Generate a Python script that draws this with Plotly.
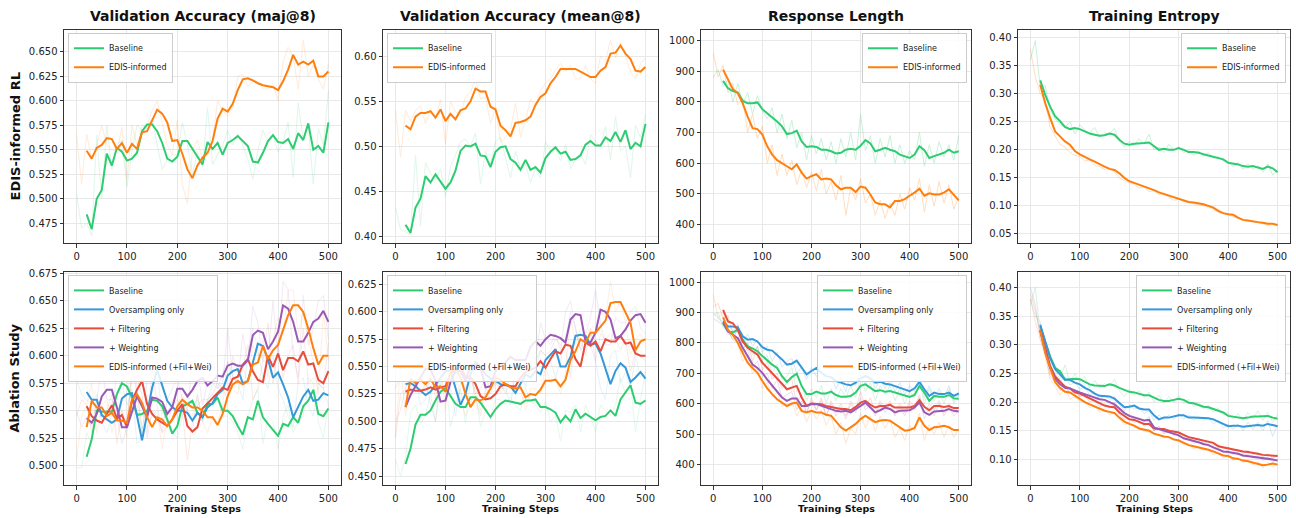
import plotly.graph_objects as go

W, H = 1296, 518
STEPS_RAW = list(range(0, 501, 10))
STEPS_SM = list(range(20, 501, 10))

GREEN = '#2ecc71'; BLUE = '#3498db'; RED = '#e74c3c'; PURPLE = '#9b59b6'; ORANGE = '#ff7f0e'

COL_TITLES = ["Validation Accuracy (maj@8)", "Validation Accuracy (mean@8)", "Response Length", "Training Entropy"]
ROW_TITLES = ["EDIS-informed RL", "Ablation Study"]
NAMES_TOP = ["Baseline", "EDIS-informed"]
NAMES_AB = ["Baseline", "Oversampling only", "+ Filtering", "+ Weighting", "EDIS-informed (+Fil+Wei)"]
X_TICKS = [0, 100, 200, 300, 400, 500]

# ---------------- Row 1: EDIS-informed RL ----------------
MAJ_BASE = [0.484, 0.469, 0.500, 0.509, 0.546, 0.534, 0.552, 0.548, 0.539,
            0.541, 0.547, 0.569, 0.576, 0.576, 0.569, 0.557, 0.541, 0.538, 0.543,
            0.559, 0.559, 0.551, 0.543, 0.535, 0.558, 0.551, 0.557, 0.545, 0.557,
            0.560, 0.564, 0.559, 0.554, 0.538, 0.537, 0.547, 0.559, 0.565, 0.558,
            0.557, 0.561, 0.551, 0.567, 0.560, 0.577, 0.550, 0.554, 0.547, 0.578]
MAJ_EDIS = [0.549, 0.541, 0.552, 0.555, 0.562, 0.561, 0.551, 0.557, 0.547,
            0.556, 0.551, 0.568, 0.569, 0.580, 0.591, 0.587, 0.578, 0.559, 0.560,
            0.546, 0.530, 0.521, 0.534, 0.542, 0.547, 0.559, 0.582, 0.592, 0.589,
            0.597, 0.611, 0.622, 0.623, 0.621, 0.618, 0.616, 0.615, 0.614, 0.611,
            0.620, 0.632, 0.647, 0.637, 0.640, 0.637, 0.641, 0.625, 0.625, 0.630]
MAJ_BASE_RAW = [0.505, 0.470, 0.475, 0.462, 0.565, 0.500, 0.575, 0.530, 0.555, 0.560,
                0.512, 0.548, 0.575, 0.570, 0.573, 0.582, 0.555, 0.530, 0.540, 0.545,
                0.545, 0.578, 0.555, 0.525, 0.548, 0.532, 0.593, 0.535, 0.545, 0.555,
                0.570, 0.555, 0.567, 0.555, 0.540, 0.520, 0.550, 0.570, 0.558, 0.565,
                0.548, 0.558, 0.578, 0.522, 0.598, 0.560, 0.575, 0.515, 0.572, 0.555,
                0.610]
MAJ_EDIS_RAW = [0.565, 0.515, 0.566, 0.540, 0.555, 0.575, 0.555, 0.550, 0.548, 0.573,
                0.520, 0.575, 0.555, 0.575, 0.575, 0.590, 0.600, 0.578, 0.555, 0.545,
                0.580, 0.515, 0.495, 0.550, 0.560, 0.540, 0.545, 0.560, 0.600, 0.590,
                0.585, 0.592, 0.625, 0.627, 0.615, 0.620, 0.620, 0.612, 0.612, 0.617,
                0.600, 0.640, 0.655, 0.645, 0.612, 0.662, 0.625, 0.637, 0.622, 0.612,
                0.638]

MEAN_BASE = [0.413, 0.404, 0.432, 0.442, 0.467, 0.460, 0.469, 0.461, 0.453,
             0.460, 0.473, 0.495, 0.501, 0.500, 0.503, 0.490, 0.489, 0.477, 0.494,
             0.499, 0.500, 0.486, 0.482, 0.474, 0.485, 0.474, 0.477, 0.471, 0.487,
             0.494, 0.499, 0.492, 0.494, 0.485, 0.486, 0.490, 0.502, 0.506, 0.501,
             0.501, 0.510, 0.506, 0.516, 0.505, 0.518, 0.497, 0.504, 0.500, 0.525]
MEAN_EDIS = [0.523, 0.519, 0.533, 0.537, 0.537, 0.539, 0.532, 0.541, 0.528,
             0.536, 0.530, 0.540, 0.542, 0.550, 0.564, 0.561, 0.561, 0.544, 0.541,
             0.523, 0.518, 0.511, 0.526, 0.527, 0.529, 0.533, 0.546, 0.555, 0.559,
             0.570, 0.577, 0.586, 0.586, 0.586, 0.586, 0.583, 0.580, 0.577, 0.577,
             0.584, 0.588, 0.603, 0.604, 0.612, 0.603, 0.597, 0.584, 0.583, 0.588]
MEAN_BASE_RAW = [0.432, 0.408, 0.405, 0.402, 0.490, 0.412, 0.482, 0.470, 0.462, 0.475,
                 0.445, 0.478, 0.490, 0.505, 0.508, 0.500, 0.515, 0.458, 0.495, 0.480,
                 0.505, 0.510, 0.487, 0.465, 0.495, 0.475, 0.480, 0.460, 0.475, 0.465,
                 0.505, 0.495, 0.497, 0.484, 0.502, 0.475, 0.485, 0.492, 0.480, 0.513,
                 0.505, 0.500, 0.522, 0.485, 0.533, 0.495, 0.500, 0.465, 0.523, 0.510,
                 0.535]
MEAN_EDIS_RAW = [0.540, 0.488, 0.540, 0.528, 0.540, 0.545, 0.525, 0.540, 0.530, 0.552,
                 0.503, 0.550, 0.538, 0.535, 0.555, 0.560, 0.575, 0.553, 0.555, 0.525,
                 0.543, 0.505, 0.510, 0.518, 0.548, 0.510, 0.530, 0.552, 0.547, 0.562,
                 0.570, 0.575, 0.585, 0.592, 0.583, 0.590, 0.575, 0.575, 0.590, 0.575,
                 0.570, 0.600, 0.595, 0.618, 0.598, 0.615, 0.600, 0.582, 0.575, 0.592,
                 0.598]

LEN_BASE = [868, 844, 835, 830, 803, 795, 795, 798, 776,
            763, 752, 736, 720, 695, 698, 706, 671, 653, 655,
            653, 644, 644, 639, 632, 634, 644, 647, 644, 657,
            675, 664, 639, 644, 650, 644, 639, 628, 623, 617,
            628, 655, 642, 617, 623, 628, 634, 644, 634, 639]
LEN_EDIS = [905, 871, 841, 828, 795, 752, 714, 711, 693,
            655, 628, 610, 601, 590, 580, 596, 569, 550, 558,
            564, 547, 550, 547, 528, 515, 520, 520, 506, 524,
            520, 498, 472, 466, 466, 456, 477, 477, 483, 494,
            504, 517, 494, 502, 498, 498, 504, 515, 498, 479]
LEN_BASE_RAW = [880, 905, 850, 870, 800, 860, 790, 830, 760, 820,
                770, 745, 780, 700, 760, 680, 740, 650, 700, 610,
                690, 630, 680, 610, 670, 600, 680, 620, 700, 610,
                760, 640, 690, 600, 680, 620, 690, 600, 660, 600,
                640, 610, 700, 590, 660, 600, 670, 620, 660, 610,
                690]
LEN_EDIS_RAW = [960, 880, 920, 830, 860, 790, 810, 700, 760, 680,
                720, 600, 660, 560, 630, 560, 610, 530, 580, 520,
                570, 510, 580, 500, 540, 480, 560, 430, 520, 480,
                550, 470, 500, 430, 480, 420, 470, 430, 500, 450,
                520, 480, 550, 440, 530, 460, 540, 470, 530, 450,
                490]

ENT_BASE = [0.324, 0.298, 0.277, 0.260, 0.251, 0.241, 0.237, 0.239, 0.237,
            0.233, 0.229, 0.227, 0.225, 0.226, 0.229, 0.227, 0.218, 0.211, 0.209,
            0.211, 0.211, 0.212, 0.213, 0.206, 0.200, 0.202, 0.200, 0.200, 0.203,
            0.200, 0.196, 0.196, 0.195, 0.192, 0.190, 0.187, 0.186, 0.183, 0.177,
            0.176, 0.174, 0.171, 0.170, 0.171, 0.168, 0.166, 0.170, 0.167, 0.160]
ENT_EDIS = [0.316, 0.283, 0.257, 0.233, 0.224, 0.215, 0.209, 0.198, 0.192,
            0.187, 0.183, 0.179, 0.174, 0.170, 0.166, 0.164, 0.158, 0.150, 0.144,
            0.141, 0.137, 0.134, 0.131, 0.128, 0.124, 0.121, 0.119, 0.115, 0.112,
            0.109, 0.107, 0.106, 0.105, 0.103, 0.100, 0.097, 0.091, 0.087, 0.085,
            0.084, 0.079, 0.075, 0.074, 0.072, 0.071, 0.070, 0.068, 0.068, 0.066]
ENT_BASE_RAW = [0.360, 0.395, 0.310, 0.315, 0.270, 0.255, 0.245, 0.240, 0.250, 0.228,
                0.245, 0.235, 0.230, 0.240, 0.222, 0.230, 0.228, 0.238, 0.215, 0.205,
                0.215, 0.208, 0.220, 0.210, 0.228, 0.200, 0.205, 0.195, 0.210, 0.200,
                0.205, 0.195, 0.200, 0.190, 0.198, 0.188, 0.195, 0.185, 0.188, 0.180,
                0.180, 0.170, 0.178, 0.165, 0.175, 0.165, 0.172, 0.160, 0.175, 0.155,
                0.165]
ENT_EDIS_RAW = [0.380, 0.330, 0.300, 0.290, 0.240, 0.225, 0.210, 0.205, 0.195, 0.190,
                0.188, 0.180, 0.182, 0.172, 0.170, 0.165, 0.168, 0.160, 0.150, 0.145,
                0.142, 0.138, 0.132, 0.135, 0.125, 0.128, 0.120, 0.122, 0.115, 0.110,
                0.112, 0.108, 0.106, 0.104, 0.102, 0.100, 0.098, 0.094, 0.088, 0.086,
                0.085, 0.080, 0.078, 0.074, 0.073, 0.072, 0.070, 0.068, 0.065, 0.068,
                0.064]

# ---------------- Row 2: Ablation Study ----------------
AB_MAJ_BASE = [0.508, 0.524, 0.550, 0.549, 0.549, 0.549, 0.565, 0.575, 0.572,
               0.562, 0.546, 0.547, 0.550, 0.560, 0.559, 0.554, 0.542, 0.529, 0.536,
               0.554, 0.556, 0.559, 0.548, 0.544, 0.556, 0.556, 0.562, 0.550, 0.550,
               0.545, 0.536, 0.528, 0.544, 0.542, 0.559, 0.544, 0.538, 0.533, 0.527,
               0.538, 0.536, 0.544, 0.539, 0.554, 0.559, 0.569, 0.547, 0.545, 0.552]
AB_MAJ_OVER = [0.567, 0.560, 0.560, 0.546, 0.542, 0.539, 0.542, 0.561, 0.565,
               0.566, 0.545, 0.523, 0.547, 0.571, 0.587, 0.574, 0.559, 0.553, 0.550,
               0.550, 0.548, 0.541, 0.548, 0.544, 0.553, 0.557, 0.565, 0.569, 0.582,
               0.586, 0.588, 0.575, 0.577, 0.594, 0.611, 0.609, 0.597, 0.580, 0.585,
               0.574, 0.562, 0.544, 0.553, 0.563, 0.569, 0.559, 0.560, 0.566, 0.564]
AB_MAJ_FILT = [0.554, 0.545, 0.541, 0.539, 0.547, 0.555, 0.543, 0.546, 0.535,
               0.559, 0.569, 0.577, 0.556, 0.547, 0.542, 0.539, 0.536, 0.542, 0.550,
               0.556, 0.536, 0.531, 0.535, 0.552, 0.557, 0.562, 0.566, 0.571, 0.569,
               0.579, 0.581, 0.592, 0.597, 0.586, 0.578, 0.576, 0.600, 0.590, 0.602,
               0.587, 0.598, 0.598, 0.595, 0.604, 0.592, 0.593, 0.578, 0.575, 0.586]
AB_MAJ_WEIGHT = [0.543, 0.539, 0.547, 0.563, 0.569, 0.569, 0.553, 0.535, 0.535,
                 0.550, 0.563, 0.554, 0.544, 0.562, 0.561, 0.558, 0.547, 0.553, 0.570,
                 0.570, 0.563, 0.569, 0.577, 0.580, 0.573, 0.577, 0.582, 0.581, 0.591,
                 0.593, 0.591, 0.591, 0.596, 0.619, 0.623, 0.621, 0.606, 0.613, 0.622,
                 0.646, 0.643, 0.631, 0.613, 0.613, 0.621, 0.631, 0.634, 0.641, 0.631]
AB_MAJ_EDIS = [0.535, 0.559, 0.553, 0.553, 0.545, 0.548, 0.541, 0.541, 0.539,
               0.560, 0.565, 0.557, 0.544, 0.535, 0.544, 0.542, 0.536, 0.542, 0.554,
               0.560, 0.556, 0.553, 0.553, 0.550, 0.544, 0.544, 0.537, 0.547, 0.563,
               0.574, 0.577, 0.574, 0.577, 0.592, 0.594, 0.609, 0.597, 0.605, 0.610,
               0.624, 0.637, 0.646, 0.646, 0.640, 0.625, 0.607, 0.592, 0.600, 0.600]
AB_MAJ_BASE_RAW = [0.498, 0.498, 0.530, 0.520, 0.560, 0.545, 0.550, 0.550, 0.560, 0.585,
                   0.580, 0.555, 0.555, 0.530, 0.565, 0.560, 0.562, 0.550, 0.540, 0.530,
                   0.525, 0.545, 0.565, 0.555, 0.560, 0.540, 0.560, 0.565, 0.560, 0.545,
                   0.545, 0.540, 0.530, 0.515, 0.545, 0.560, 0.570, 0.520, 0.545, 0.540,
                   0.515, 0.545, 0.555, 0.530, 0.540, 0.545, 0.580, 0.575, 0.540, 0.525,
                   0.555]
AB_MAJ_OVER_RAW = [0.578, 0.565, 0.560, 0.555, 0.565, 0.540, 0.530, 0.545, 0.585, 0.575,
                   0.555, 0.570, 0.520, 0.525, 0.580, 0.600, 0.590, 0.540, 0.550, 0.555,
                   0.545, 0.560, 0.535, 0.530, 0.565, 0.540, 0.560, 0.575, 0.570, 0.585,
                   0.595, 0.582, 0.575, 0.560, 0.600, 0.625, 0.605, 0.580, 0.570, 0.600,
                   0.570, 0.560, 0.545, 0.535, 0.575, 0.580, 0.555, 0.545, 0.575, 0.570,
                   0.555]
AB_MAJ_FILT_RAW = [0.545, 0.560, 0.555, 0.530, 0.545, 0.545, 0.550, 0.565, 0.520, 0.550,
                   0.540, 0.580, 0.580, 0.565, 0.525, 0.550, 0.545, 0.530, 0.535, 0.555,
                   0.560, 0.550, 0.505, 0.540, 0.555, 0.560, 0.560, 0.565, 0.575, 0.570,
                   0.560, 0.600, 0.585, 0.590, 0.610, 0.560, 0.570, 0.595, 0.630, 0.575,
                   0.610, 0.580, 0.600, 0.610, 0.575, 0.625, 0.575, 0.580, 0.575, 0.570,
                   0.612]
AB_MAJ_WEIGHT_RAW = [0.550, 0.535, 0.545, 0.535, 0.560, 0.590, 0.560, 0.560, 0.545, 0.520,
                     0.535, 0.590, 0.565, 0.535, 0.530, 0.590, 0.555, 0.530, 0.560, 0.570,
                     0.580, 0.560, 0.550, 0.595, 0.590, 0.555, 0.575, 0.600, 0.570, 0.575,
                     0.625, 0.580, 0.575, 0.620, 0.595, 0.645, 0.630, 0.595, 0.595, 0.650,
                     0.600, 0.668, 0.660, 0.600, 0.580, 0.655, 0.610, 0.625, 0.650, 0.655,
                     0.615]
AB_MAJ_EDIS_RAW = [0.505, 0.545, 0.555, 0.575, 0.530, 0.555, 0.560, 0.530, 0.545, 0.550,
                   0.525, 0.600, 0.570, 0.530, 0.535, 0.545, 0.550, 0.515, 0.545, 0.560,
                   0.555, 0.565, 0.550, 0.545, 0.565, 0.540, 0.530, 0.545, 0.540, 0.555,
                   0.595, 0.570, 0.565, 0.590, 0.575, 0.610, 0.600, 0.615, 0.580, 0.615,
                   0.635, 0.620, 0.660, 0.660, 0.620, 0.640, 0.615, 0.595, 0.565, 0.640,
                   0.595]

AB_MEAN_BASE = [0.461, 0.475, 0.497, 0.506, 0.506, 0.510, 0.519, 0.527, 0.530,
                0.523, 0.516, 0.513, 0.513, 0.522, 0.522, 0.517, 0.510, 0.504, 0.511,
                0.516, 0.519, 0.518, 0.517, 0.516, 0.519, 0.519, 0.520, 0.513, 0.513,
                0.511, 0.508, 0.499, 0.505, 0.500, 0.511, 0.503, 0.507, 0.504, 0.501,
                0.504, 0.505, 0.510, 0.505, 0.520, 0.526, 0.533, 0.517, 0.516, 0.519]
AB_MEAN_OVER = [0.534, 0.535, 0.532, 0.528, 0.524, 0.527, 0.533, 0.540, 0.546,
                0.546, 0.530, 0.515, 0.525, 0.543, 0.554, 0.550, 0.543, 0.539, 0.537,
                0.534, 0.533, 0.532, 0.526, 0.535, 0.543, 0.540, 0.546, 0.543, 0.556,
                0.561, 0.566, 0.550, 0.550, 0.559, 0.578, 0.579, 0.578, 0.570, 0.571,
                0.562, 0.547, 0.534, 0.546, 0.553, 0.549, 0.536, 0.540, 0.545, 0.539]
AB_MEAN_FILT = [0.527, 0.529, 0.528, 0.528, 0.529, 0.531, 0.529, 0.531, 0.532,
                0.544, 0.546, 0.551, 0.540, 0.540, 0.534, 0.523, 0.520, 0.521, 0.525,
                0.532, 0.534, 0.532, 0.532, 0.540, 0.545, 0.547, 0.549, 0.555, 0.549,
                0.557, 0.564, 0.562, 0.570, 0.569, 0.557, 0.550, 0.572, 0.569, 0.573,
                0.564, 0.575, 0.573, 0.573, 0.578, 0.571, 0.572, 0.562, 0.560, 0.560]
AB_MEAN_WEIGHT = [0.513, 0.524, 0.532, 0.540, 0.548, 0.548, 0.537, 0.518, 0.519,
                  0.536, 0.546, 0.546, 0.537, 0.551, 0.552, 0.549, 0.531, 0.532, 0.546,
                  0.551, 0.554, 0.559, 0.556, 0.556, 0.556, 0.568, 0.573, 0.569, 0.575,
                  0.579, 0.578, 0.576, 0.572, 0.593, 0.598, 0.597, 0.573, 0.572, 0.581,
                  0.602, 0.600, 0.593, 0.576, 0.578, 0.584, 0.592, 0.597, 0.598, 0.590]
AB_MEAN_EDIS = [0.513, 0.539, 0.535, 0.538, 0.534, 0.539, 0.531, 0.532, 0.527,
                0.546, 0.548, 0.540, 0.525, 0.513, 0.520, 0.519, 0.522, 0.530, 0.540,
                0.538, 0.534, 0.531, 0.530, 0.531, 0.522, 0.525, 0.524, 0.529, 0.537,
                0.537, 0.538, 0.532, 0.538, 0.556, 0.564, 0.575, 0.572, 0.581, 0.581,
                0.587, 0.592, 0.608, 0.609, 0.609, 0.600, 0.590, 0.565, 0.573, 0.575]
AB_MEAN_BASE_RAW = [0.465, 0.450, 0.467, 0.508, 0.515, 0.497, 0.506, 0.525, 0.500, 0.535,
                    0.540, 0.495, 0.515, 0.530, 0.498, 0.540, 0.528, 0.495, 0.510, 0.505,
                    0.520, 0.520, 0.515, 0.522, 0.515, 0.510, 0.530, 0.518, 0.515, 0.508,
                    0.518, 0.500, 0.505, 0.482, 0.510, 0.508, 0.515, 0.490, 0.515, 0.505,
                    0.490, 0.515, 0.510, 0.505, 0.515, 0.540, 0.525, 0.535, 0.490, 0.520,
                    0.545]
AB_MEAN_OVER_RAW = [0.530, 0.540, 0.533, 0.532, 0.540, 0.515, 0.520, 0.540, 0.545, 0.555,
                    0.540, 0.530, 0.505, 0.535, 0.560, 0.555, 0.545, 0.535, 0.540, 0.530,
                    0.535, 0.530, 0.530, 0.515, 0.545, 0.550, 0.530, 0.555, 0.545, 0.565,
                    0.560, 0.555, 0.540, 0.555, 0.575, 0.600, 0.585, 0.565, 0.570, 0.570,
                    0.555, 0.530, 0.520, 0.560, 0.565, 0.535, 0.545, 0.530, 0.560, 0.540,
                    0.545]
AB_MEAN_FILT_RAW = [0.485, 0.525, 0.530, 0.525, 0.535, 0.525, 0.535, 0.525, 0.535, 0.530,
                    0.545, 0.560, 0.550, 0.540, 0.530, 0.545, 0.520, 0.505, 0.530, 0.525,
                    0.535, 0.535, 0.525, 0.545, 0.525, 0.560, 0.550, 0.555, 0.555, 0.565,
                    0.560, 0.565, 0.575, 0.570, 0.565, 0.540, 0.580, 0.575, 0.560, 0.585,
                    0.555, 0.580, 0.575, 0.580, 0.575, 0.565, 0.575, 0.545, 0.565, 0.560,
                    0.555]
AB_MEAN_WEIGHT_RAW = [0.500, 0.510, 0.530, 0.540, 0.550, 0.555, 0.540, 0.515, 0.500, 0.540,
                      0.560, 0.545, 0.535, 0.560, 0.555, 0.540, 0.525, 0.530, 0.540, 0.565,
                      0.550, 0.545, 0.565, 0.560, 0.545, 0.565, 0.580, 0.575, 0.555, 0.590,
                      0.575, 0.570, 0.580, 0.565, 0.600, 0.610, 0.585, 0.565, 0.580, 0.595,
                      0.620, 0.590, 0.570, 0.570, 0.595, 0.590, 0.590, 0.600, 0.605, 0.585,
                      0.580]
AB_MEAN_EDIS_RAW = [0.485, 0.552, 0.505, 0.545, 0.530, 0.540, 0.530, 0.545, 0.520, 0.550,
                    0.510, 0.565, 0.545, 0.520, 0.505, 0.515, 0.535, 0.510, 0.525, 0.545,
                    0.545, 0.525, 0.535, 0.530, 0.530, 0.530, 0.510, 0.530, 0.530, 0.525,
                    0.550, 0.535, 0.540, 0.525, 0.545, 0.595, 0.570, 0.585, 0.580, 0.585,
                    0.580, 0.600, 0.595, 0.628, 0.600, 0.610, 0.590, 0.560, 0.575, 0.580,
                    0.570]

AB_LEN_BASE = [865, 838, 835, 843, 811, 789, 782, 773, 757,
               742, 729, 718, 691, 672, 688, 699, 659, 632, 632,
               640, 634, 634, 640, 629, 623, 623, 626, 637, 659,
               664, 653, 642, 645, 640, 642, 637, 632, 626, 623,
               629, 659, 637, 610, 626, 623, 623, 629, 618, 617]
AB_LEN_OVER = [871, 854, 854, 851, 822, 811, 813, 805, 786,
               778, 775, 762, 746, 729, 732, 742, 718, 697, 708,
               718, 702, 691, 688, 675, 670, 664, 661, 670, 684,
               691, 684, 670, 673, 666, 664, 659, 653, 648, 642,
               651, 672, 648, 626, 637, 632, 632, 637, 626, 634]
AB_LEN_FILT = [909, 871, 865, 843, 805, 784, 773, 762, 735,
               718, 702, 686, 666, 648, 653, 659, 621, 593, 601,
               599, 599, 593, 590, 586, 583, 583, 579, 590, 604,
               610, 597, 588, 593, 593, 597, 588, 588, 586, 588,
               593, 612, 590, 579, 593, 593, 590, 593, 586, 586]
AB_LEN_WEIGHT = [868, 838, 827, 816, 784, 757, 729, 718, 702,
                 680, 659, 640, 621, 610, 618, 618, 593, 593, 599,
                 599, 593, 588, 583, 577, 575, 577, 572, 583, 593,
                 604, 588, 572, 579, 588, 583, 572, 577, 577, 579,
                 588, 604, 572, 564, 575, 575, 577, 583, 577, 575]
AB_LEN_EDIS = [884, 843, 827, 800, 767, 735, 718, 702, 675,
               651, 632, 615, 604, 593, 601, 604, 577, 572, 577,
               572, 572, 564, 561, 540, 523, 512, 523, 534, 550,
               561, 550, 540, 545, 547, 545, 534, 523, 512, 514,
               521, 555, 528, 514, 523, 525, 528, 523, 514, 514]
AB_LEN_BASE_RAW = [890, 900, 850, 840, 810, 850, 780, 800, 760, 790,
                   740, 760, 700, 730, 680, 690, 720, 640, 660, 610,
                   650, 620, 660, 600, 650, 610, 650, 620, 660, 620,
                   690, 640, 670, 610, 660, 630, 660, 610, 650, 600,
                   640, 620, 680, 600, 650, 610, 640, 600, 650, 600,
                   630]
AB_LEN_OVER_RAW = [900, 880, 870, 860, 840, 860, 800, 830, 790, 810,
                   770, 790, 740, 770, 720, 740, 750, 700, 720, 680,
                   720, 690, 710, 670, 690, 650, 680, 640, 700, 660,
                   720, 660, 690, 650, 680, 650, 680, 640, 670, 630,
                   660, 640, 690, 620, 660, 620, 650, 620, 660, 610,
                   640]
AB_LEN_FILT_RAW = [920, 930, 880, 890, 830, 860, 780, 800, 740, 790,
                   710, 740, 680, 700, 650, 670, 680, 600, 630, 570,
                   620, 580, 620, 560, 610, 570, 600, 560, 610, 580,
                   640, 590, 620, 570, 610, 580, 610, 570, 600, 570,
                   610, 590, 630, 570, 600, 580, 610, 570, 600, 570,
                   590]
AB_LEN_WEIGHT_RAW = [880, 870, 860, 830, 820, 840, 770, 780, 720, 740,
                     690, 700, 650, 680, 620, 630, 640, 580, 610, 570,
                     610, 580, 610, 560, 600, 560, 590, 550, 600, 570,
                     620, 580, 600, 560, 600, 570, 600, 560, 590, 560,
                     600, 580, 620, 550, 590, 560, 600, 560, 590, 560,
                     580]
AB_LEN_EDIS_RAW = [960, 880, 900, 840, 810, 800, 740, 760, 700, 720,
                   650, 670, 620, 640, 590, 610, 610, 560, 590, 540,
                   580, 550, 580, 530, 560, 500, 540, 470, 520, 500,
                   570, 520, 560, 510, 560, 520, 550, 490, 520, 480,
                   530, 510, 570, 480, 530, 500, 540, 490, 530, 490,
                   520]

AB_ENT_BASE = [0.332, 0.306, 0.280, 0.260, 0.254, 0.239, 0.240, 0.241, 0.240,
               0.235, 0.231, 0.229, 0.229, 0.228, 0.231, 0.229, 0.225, 0.221, 0.218,
               0.217, 0.215, 0.212, 0.212, 0.208, 0.204, 0.202, 0.202, 0.204, 0.206,
               0.204, 0.199, 0.198, 0.195, 0.192, 0.191, 0.188, 0.185, 0.182, 0.176,
               0.175, 0.173, 0.172, 0.173, 0.175, 0.175, 0.175, 0.176, 0.173, 0.171]
AB_ENT_OVER = [0.335, 0.306, 0.277, 0.258, 0.248, 0.239, 0.239, 0.234, 0.231,
               0.225, 0.221, 0.215, 0.211, 0.210, 0.210, 0.206, 0.199, 0.191, 0.192,
               0.194, 0.189, 0.187, 0.187, 0.177, 0.170, 0.173, 0.173, 0.175, 0.177,
               0.177, 0.173, 0.173, 0.173, 0.172, 0.172, 0.170, 0.166, 0.162, 0.158,
               0.159, 0.159, 0.157, 0.158, 0.160, 0.160, 0.159, 0.162, 0.160, 0.158]
AB_ENT_FILT = [0.326, 0.292, 0.263, 0.245, 0.235, 0.227, 0.224, 0.217, 0.215,
               0.211, 0.206, 0.202, 0.198, 0.194, 0.192, 0.191, 0.182, 0.176, 0.170,
               0.169, 0.166, 0.162, 0.162, 0.154, 0.153, 0.153, 0.150, 0.149, 0.147,
               0.143, 0.139, 0.137, 0.135, 0.133, 0.131, 0.129, 0.123, 0.121, 0.120,
               0.117, 0.116, 0.114, 0.113, 0.112, 0.110, 0.108, 0.107, 0.107, 0.106]
AB_ENT_WEIGHT = [0.325, 0.289, 0.260, 0.241, 0.231, 0.225, 0.224, 0.220, 0.217,
                 0.214, 0.211, 0.208, 0.205, 0.204, 0.200, 0.196, 0.189, 0.181, 0.176,
                 0.173, 0.170, 0.168, 0.169, 0.156, 0.153, 0.150, 0.147, 0.145, 0.142,
                 0.137, 0.135, 0.133, 0.130, 0.127, 0.125, 0.121, 0.117, 0.114, 0.113,
                 0.112, 0.110, 0.107, 0.106, 0.104, 0.104, 0.102, 0.101, 0.100, 0.098]
AB_ENT_EDIS = [0.325, 0.286, 0.260, 0.235, 0.225, 0.218, 0.217, 0.211, 0.205,
               0.200, 0.196, 0.192, 0.188, 0.185, 0.183, 0.181, 0.173, 0.166, 0.162,
               0.159, 0.154, 0.152, 0.150, 0.145, 0.142, 0.140, 0.139, 0.135, 0.133,
               0.129, 0.125, 0.123, 0.121, 0.120, 0.117, 0.114, 0.110, 0.107, 0.106,
               0.102, 0.101, 0.098, 0.097, 0.095, 0.093, 0.090, 0.091, 0.093, 0.091]
AB_ENT_BASE_RAW = [0.370, 0.400, 0.320, 0.300, 0.270, 0.255, 0.240, 0.265, 0.235, 0.250,
                   0.235, 0.245, 0.225, 0.238, 0.225, 0.232, 0.228, 0.240, 0.220, 0.210,
                   0.222, 0.212, 0.220, 0.208, 0.218, 0.200, 0.212, 0.198, 0.210, 0.200,
                   0.212, 0.198, 0.205, 0.192, 0.200, 0.188, 0.195, 0.182, 0.190, 0.178,
                   0.182, 0.170, 0.180, 0.168, 0.182, 0.170, 0.185, 0.168, 0.182, 0.165,
                   0.178]
AB_ENT_OVER_RAW = [0.380, 0.350, 0.340, 0.300, 0.265, 0.250, 0.235, 0.245, 0.230, 0.235,
                   0.222, 0.228, 0.212, 0.218, 0.205, 0.212, 0.205, 0.210, 0.195, 0.185,
                   0.195, 0.188, 0.190, 0.180, 0.185, 0.168, 0.178, 0.168, 0.178, 0.170,
                   0.180, 0.170, 0.178, 0.168, 0.175, 0.168, 0.172, 0.162, 0.168, 0.155,
                   0.162, 0.152, 0.162, 0.150, 0.165, 0.152, 0.165, 0.150, 0.168, 0.140,
                   0.160]
AB_ENT_FILT_RAW = [0.390, 0.360, 0.320, 0.290, 0.250, 0.240, 0.225, 0.230, 0.215, 0.220,
                   0.210, 0.212, 0.200, 0.205, 0.192, 0.198, 0.190, 0.195, 0.178, 0.170,
                   0.172, 0.165, 0.168, 0.158, 0.165, 0.150, 0.158, 0.145, 0.152, 0.145,
                   0.148, 0.140, 0.140, 0.132, 0.138, 0.128, 0.132, 0.125, 0.126, 0.118,
                   0.122, 0.115, 0.118, 0.110, 0.116, 0.108, 0.112, 0.105, 0.110, 0.102,
                   0.108]
AB_ENT_WEIGHT_RAW = [0.400, 0.370, 0.310, 0.285, 0.245, 0.235, 0.220, 0.228, 0.215, 0.220,
                     0.210, 0.215, 0.205, 0.208, 0.198, 0.205, 0.195, 0.200, 0.185, 0.178,
                     0.178, 0.170, 0.172, 0.165, 0.175, 0.150, 0.158, 0.145, 0.150, 0.142,
                     0.145, 0.135, 0.138, 0.128, 0.132, 0.124, 0.128, 0.118, 0.120, 0.112,
                     0.116, 0.108, 0.112, 0.104, 0.110, 0.102, 0.106, 0.098, 0.104, 0.096,
                     0.100]
AB_ENT_EDIS_RAW = [0.380, 0.340, 0.310, 0.280, 0.240, 0.228, 0.212, 0.225, 0.205, 0.210,
                   0.200, 0.202, 0.190, 0.195, 0.182, 0.188, 0.178, 0.182, 0.170, 0.160,
                   0.165, 0.155, 0.158, 0.148, 0.152, 0.142, 0.145, 0.138, 0.140, 0.132,
                   0.135, 0.125, 0.128, 0.118, 0.122, 0.115, 0.118, 0.108, 0.112, 0.102,
                   0.108, 0.098, 0.104, 0.094, 0.100, 0.090, 0.096, 0.085, 0.095, 0.088,
                   0.092]

# ---------------- Figure assembly ----------------
TOP_COLORS = [GREEN, ORANGE]
AB_COLORS = [GREEN, BLUE, RED, PURPLE, ORANGE]

PANELS = [
    dict(raw=[MAJ_BASE_RAW, MAJ_EDIS_RAW], sm=[MAJ_BASE, MAJ_EDIS], names=NAMES_TOP, colors=TOP_COLORS,
         yr=[0.4547, 0.6726], dtick=0.025, fmt='.3f', leg='left', alpha=0.15),
    dict(raw=[MEAN_BASE_RAW, MEAN_EDIS_RAW], sm=[MEAN_BASE, MEAN_EDIS], names=NAMES_TOP, colors=TOP_COLORS,
         yr=[0.3926, 0.6294], dtick=0.05, fmt='.2f', leg='left', alpha=0.15),
    dict(raw=[LEN_BASE_RAW, LEN_EDIS_RAW], sm=[LEN_BASE, LEN_EDIS], names=NAMES_TOP, colors=TOP_COLORS,
         yr=[339.5, 1034.6], dtick=100, fmt='d', leg='right', alpha=0.25),
    dict(raw=[ENT_BASE_RAW, ENT_EDIS_RAW], sm=[ENT_BASE, ENT_EDIS], names=NAMES_TOP, colors=TOP_COLORS,
         yr=[0.0335, 0.4142], dtick=0.05, fmt='.2f', leg='right', alpha=0.25),
    dict(raw=[AB_MAJ_BASE_RAW, AB_MAJ_OVER_RAW, AB_MAJ_FILT_RAW, AB_MAJ_WEIGHT_RAW, AB_MAJ_EDIS_RAW],
         sm=[AB_MAJ_BASE, AB_MAJ_OVER, AB_MAJ_FILT, AB_MAJ_WEIGHT, AB_MAJ_EDIS], names=NAMES_AB, colors=AB_COLORS,
         yr=[0.482, 0.6765], dtick=0.025, fmt='.3f', leg='left', alpha=0.12),
    dict(raw=[AB_MEAN_BASE_RAW, AB_MEAN_OVER_RAW, AB_MEAN_FILT_RAW, AB_MEAN_WEIGHT_RAW, AB_MEAN_EDIS_RAW],
         sm=[AB_MEAN_BASE, AB_MEAN_OVER, AB_MEAN_FILT, AB_MEAN_WEIGHT, AB_MEAN_EDIS], names=NAMES_AB, colors=AB_COLORS,
         yr=[0.4416, 0.6365], dtick=0.025, fmt='.3f', leg='left', alpha=0.12),
    dict(raw=[AB_LEN_BASE_RAW, AB_LEN_OVER_RAW, AB_LEN_FILT_RAW, AB_LEN_WEIGHT_RAW, AB_LEN_EDIS_RAW],
         sm=[AB_LEN_BASE, AB_LEN_OVER, AB_LEN_FILT, AB_LEN_WEIGHT, AB_LEN_EDIS], names=NAMES_AB, colors=AB_COLORS,
         yr=[332.5, 1033.6], dtick=100, fmt='d', leg='right', alpha=0.2),
    dict(raw=[AB_ENT_BASE_RAW, AB_ENT_OVER_RAW, AB_ENT_FILT_RAW, AB_ENT_WEIGHT_RAW, AB_ENT_EDIS_RAW],
         sm=[AB_ENT_BASE, AB_ENT_OVER, AB_ENT_FILT, AB_ENT_WEIGHT, AB_ENT_EDIS], names=NAMES_AB, colors=AB_COLORS,
         yr=[0.055, 0.4272], dtick=0.05, fmt='.2f', leg='right', alpha=0.2),
]

COL_PX = [(64, 341), (383, 658), (701, 971), (1018, 1290)]
ROW_PX = [(26, 241), (270, 485)]
FONT = "DejaVu Sans"
AXIS_COLOR = '#333333'
GRID_COLOR = '#e8e8e8'

fig = go.Figure()
layout = dict(
    width=W, height=H, margin=dict(l=0, r=0, t=0, b=0),
    paper_bgcolor='white', plot_bgcolor='white',
    font=dict(family=FONT, size=10, color='#222222'),
    annotations=[], showlegend=True,
)

for k, p in enumerate(PANELS):
    r, c = divmod(k, 4)
    idx = k + 1
    xa = 'x' if idx == 1 else f'x{idx}'
    ya = 'y' if idx == 1 else f'y{idx}'
    leg = 'legend' if idx == 1 else f'legend{idx}'
    x0, x1 = COL_PX[c]
    yt, yb = ROW_PX[r]
    for raw, color in zip(p['raw'], p['colors']):
        fig.add_trace(go.Scatter(x=STEPS_RAW, y=raw, mode='lines', xaxis=xa, yaxis=ya,
                                 line=dict(color=color, width=1), opacity=p['alpha'],
                                 showlegend=False, hoverinfo='skip', legend=leg))
    for sm, color, name in zip(p['sm'], p['colors'], p['names']):
        fig.add_trace(go.Scatter(x=STEPS_SM, y=sm, mode='lines', xaxis=xa, yaxis=ya, name=name,
                                 line=dict(color=color, width=2), legend=leg))
    axis_common = dict(showline=True, mirror=True, linecolor=AXIS_COLOR, linewidth=1,
                       ticks='outside', ticklen=3.5, tickwidth=0.8, tickcolor=AXIS_COLOR,
                       showgrid=True, gridcolor=GRID_COLOR, gridwidth=0.8, zeroline=False,
                       tickfont=dict(family=FONT, size=10, color='#222222'))
    layout['xaxis' if idx == 1 else f'xaxis{idx}'] = dict(
        axis_common, domain=[x0 / W, x1 / W], anchor=ya, range=[-25, 525],
        tickvals=X_TICKS)
    layout['yaxis' if idx == 1 else f'yaxis{idx}'] = dict(
        axis_common, domain=[1 - yb / H, 1 - yt / H], anchor=xa, range=p['yr'],
        dtick=p['dtick'], tick0=0, tickformat=p['fmt'])
    if p['leg'] == 'left':
        lx, xanc = (x0 + 4) / W, 'left'
    else:
        lx, xanc = (x1 - 4) / W, 'right'
    layout[leg] = dict(x=lx, y=1 - (yt + 3) / H, xanchor=xanc, yanchor='top',
                       bgcolor='rgba(255,255,255,0.85)', bordercolor='#cccccc', borderwidth=1,
                       font=dict(family=FONT, size=8, color='#222222'),
                       itemwidth=30, tracegroupgap=0)

for c, title in enumerate(COL_TITLES):
    x0, x1 = COL_PX[c]
    layout['annotations'].append(dict(
        text=f'<b>{title}</b>', x=(x0 + x1) / 2 / W, y=1 - 12 / H, xref='paper', yref='paper',
        xanchor='center', yanchor='middle', showarrow=False,
        font=dict(family=FONT, size=14, color='#111111')))
    layout['annotations'].append(dict(
        text='<b>Training Steps</b>', x=(x0 + x1) / 2 / W, y=1 - 508 / H, xref='paper', yref='paper',
        xanchor='center', yanchor='middle', showarrow=False,
        font=dict(family=FONT, size=9.5, color='#111111')))

for r, title in enumerate(ROW_TITLES):
    yt, yb = ROW_PX[r]
    layout['annotations'].append(dict(
        text=f'<b>{title}</b>', x=15 / W, y=1 - (yt + yb) / 2 / H, xref='paper', yref='paper',
        xanchor='center', yanchor='middle', showarrow=False, textangle=-90,
        font=dict(family=FONT, size=13, color='#111111')))

fig.update_layout(**layout)
fig.write_html("out.html", config={'displayModeBar': False},
               post_script="document.body.style.margin='0';document.body.style.padding='0';")
